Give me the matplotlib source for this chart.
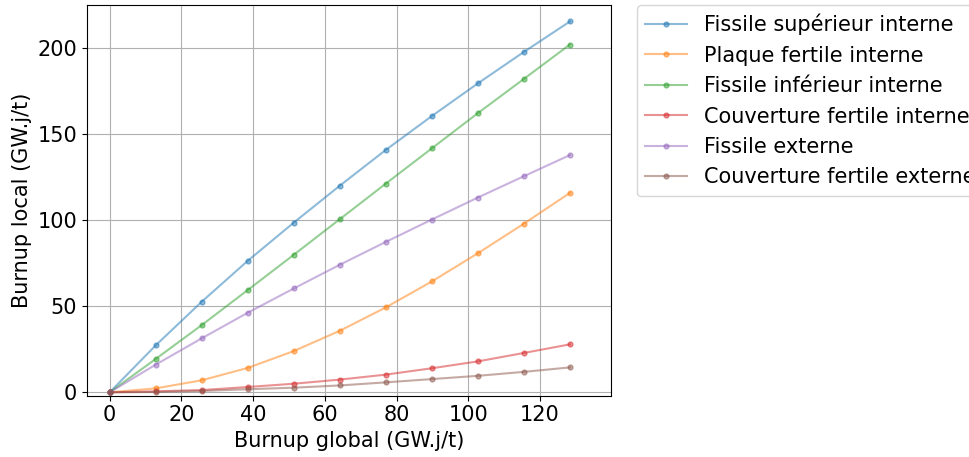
import matplotlib
matplotlib.use('Agg')
import matplotlib.pyplot as plt
import numpy as np

# burnup global (GW.j/t)
burnup_global = [0, 12.83, 25.67, 38.5, 51.33, 64.17, 77.0, 89.83, 102.67, 115.5, 128.33]

# burnup local per zone (GW.j/t)
fissile_sup_int = [0, 27.3, 52.7, 76.5, 98.7, 120.2, 141.0, 160.7, 179.7, 198.0, 215.7]
plaque_fert_int = [0, 2.3, 7.0, 14.2, 24.0, 35.8, 49.4, 64.5, 80.9, 98.1, 116.0]
fissile_inf_int = [0, 19.4, 39.1, 59.5, 80.0, 100.7, 121.4, 141.9, 162.4, 182.3, 202.3]
couv_fert_int = [0, 0.6, 1.3, 3.1, 5.0, 7.4, 10.3, 14.0, 18.0, 22.9, 27.9]
fissile_ext = [0, 16.1, 31.4, 46.3, 60.4, 74.2, 87.5, 100.5, 113.3, 125.7, 138.0]
couv_fert_ext = [0, 0.2, 0.8, 1.8, 2.7, 4.0, 5.8, 7.7, 9.6, 11.9, 14.5]

zones = ["Fissile supérieur interne", "Plaque fertile interne", "Fissile inférieur interne",
         "Couverture fertile interne", "Fissile externe", "Couverture fertile externe"]
series = [fissile_sup_int, plaque_fert_int, fissile_inf_int, couv_fert_int, fissile_ext, couv_fert_ext]

plt.rcParams['font.size'] = 15

fig = plt.figure(figsize=(9.7, 4.57), dpi=100)
ax = fig.add_axes([0.0894, 0.134, 0.5402, 0.854])

for name, vals in zip(zones, series):
    ax.plot(burnup_global, vals, marker='o', ms=3.5, alpha=0.5, label=name)

ax.set_xlim(-6.4, 139.7)
ax.set_ylim(-2, 225)
ax.grid(True)
ax.set_xlabel("Burnup global (GW.j/t)")
ax.set_ylabel("Burnup local (GW.j/t)")
ax.legend(bbox_to_anchor=(1.05, 1), loc='upper left', borderaxespad=0.)

fig.savefig("out.png", dpi=100)
